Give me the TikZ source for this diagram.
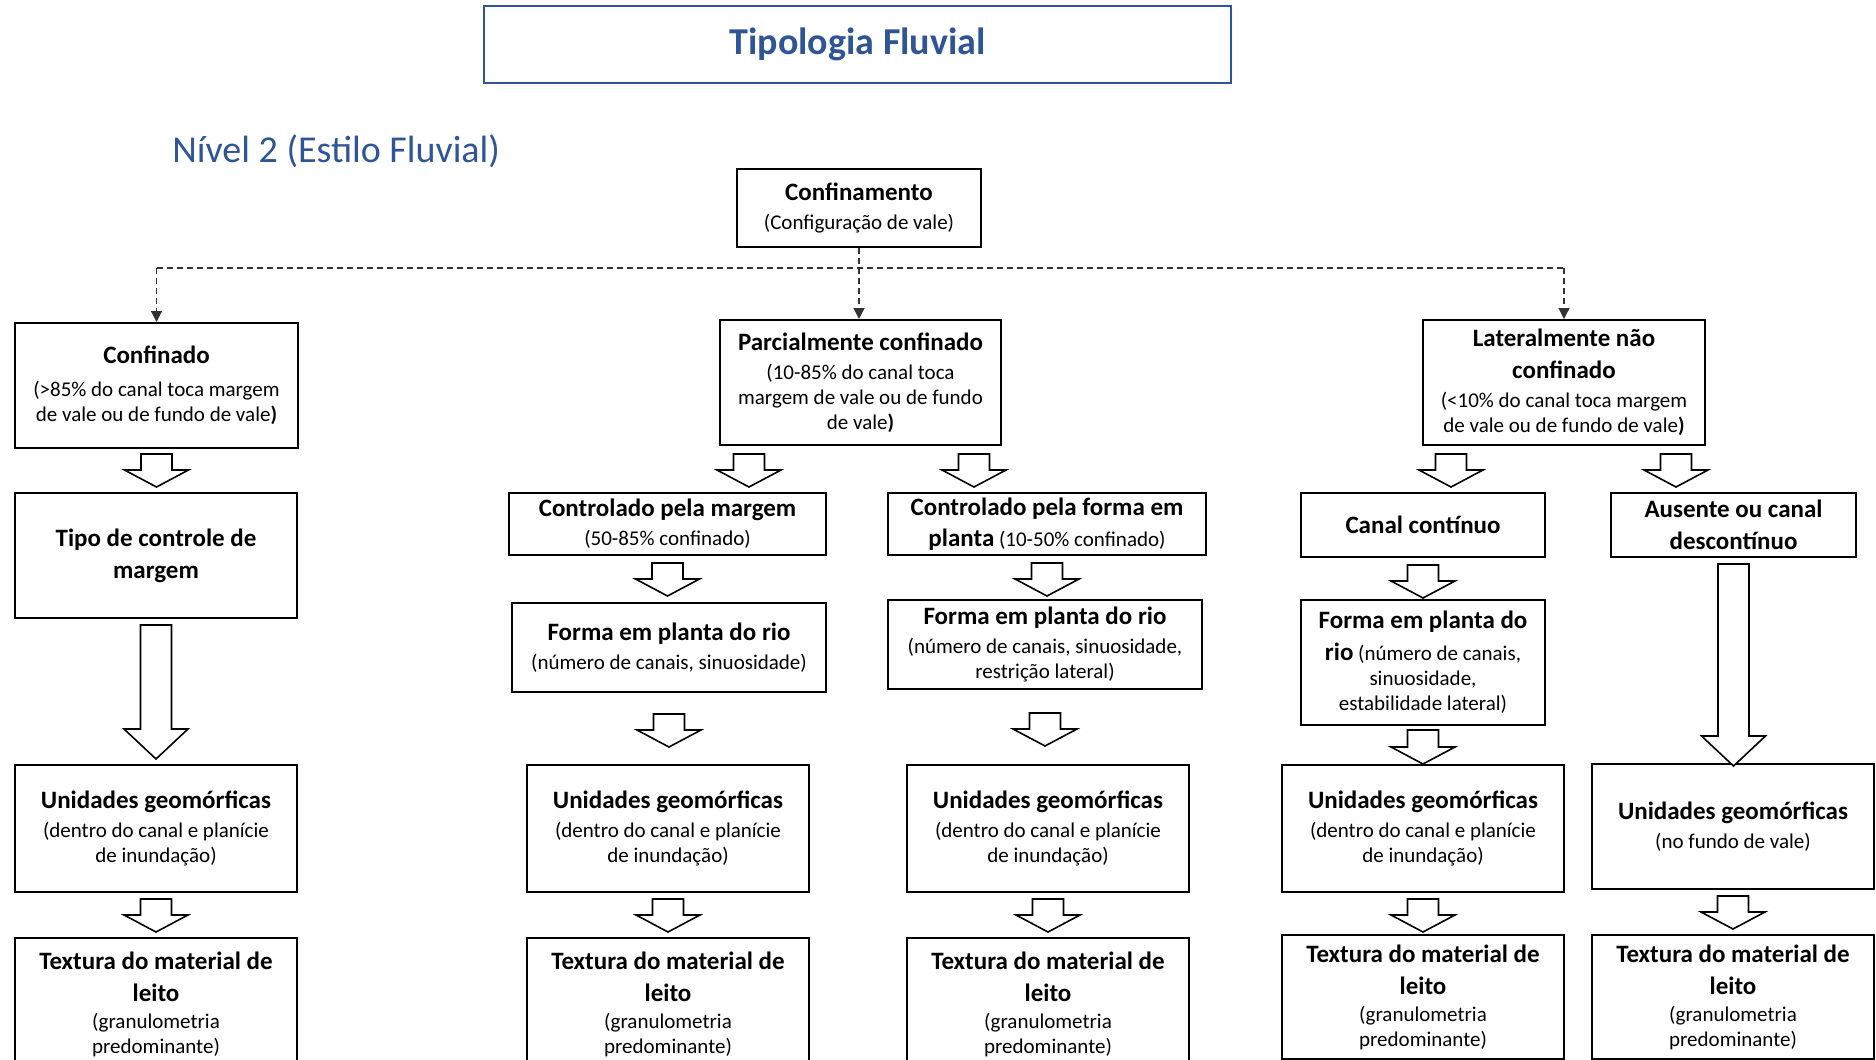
\documentclass[tikz,border=0pt]{standalone}
\usepackage{fontspec}
\setmainfont{Carlito}
\usepackage{tikz}
\usepackage{xcolor}
\usetikzlibrary{positioning,arrows.meta,calc}

\definecolor{titleblue}{RGB}{47,85,151}

\newcommand{\hd}[1]{{\fontsize{12.5}{15}\selectfont\bfseries #1}}
\newcommand{\bp}{\textbf{)}}

\tikzset{
  caixa/.style={rectangle, draw, line width=1pt, anchor=north west, align=center, inner sep=1pt, font=\fontsize{10.5}{12.5}\selectfont},
  sz/.style 2 args={minimum width=#1*0.5pt, minimum height=#2*0.5pt},
  dashline/.style={black!80, line width=0.6pt, dash pattern=on 3pt off 2pt},
  dasharrow/.style={-{Triangle[length=5.5pt,width=5.5pt]}},
  pics/fatarrow/.style args={#1/#2}{code={
    \draw[line width=0.8pt, fill=white] (-15.5,0) -- (15.5,0) -- (15.5,#1-#2) -- (32,#1-#2) -- (0,#1) -- (-32,#1-#2) -- (-15.5,#1-#2) -- cycle;
  }}
}

\begin{document}
\begin{tikzpicture}[x=0.5pt, y=-0.5pt]
        \useasboundingbox (0,0) rectangle (1876,1060);

        % Title and level label
        \node[caixa, draw=titleblue, sz={747}{77}, text=titleblue, font=\fontsize{19}{23}\selectfont\bfseries] (titulo) at (483,5) {Tipologia Fluvial};
        \node[anchor=west, inner sep=0pt, text=titleblue, font=\fontsize{19}{23}\selectfont] (nivel) at (172,151) {Nível 2 (Estilo Fluvial)};

        % Confinement
        \node[caixa, sz={244}{78}] (confinamento) at (736,168) {\hd{Confinamento}\\[2pt](Configuração de vale)};

        % Valley settings
        \node[caixa, sz={283}{125}] (confinado) at (14,322) {\hd{Confinado}\\[4pt](>85\% do canal toca margem\\de vale ou de fundo de vale\bp};
        \node[caixa, sz={281}{125}] (parcial) at (719,319) {\hd{Parcialmente confinado}\\[2pt](10-85\% do canal toca\\margem de vale ou de fundo\\de vale\bp};
        \node[caixa, sz={282}{125}] (lateral) at (1422,319) {\hd{Lateralmente não}\\[3.5pt]\hd{confinado}\\[2pt](<10\% do canal toca margem\\de vale ou de fundo de vale\bp};

        % Dashed links from confinement
        \coordinate (barra) at (0,268);
        \draw[dashline] (confinado.north |- barra) -- (lateral.north |- barra);
        \draw[dashline, dasharrow] (confinado.north |- barra) -- (confinado.north);
        \draw[dashline, dasharrow] (lateral.north |- barra) -- (lateral.north);
        \draw[dashline, dasharrow] (confinamento.south) -- (confinamento.south |- parcial.north);

        % Second row
        \node[caixa, sz={282}{125}] (tipo) at (14,492) {\hd{Tipo de controle de}\\[3.5pt]\hd{margem}};
        \node[caixa, sz={317}{62}] (margem) at (508,492) {\hd{Controlado pela margem}\\[2pt](50-85\% confinado)};
        \node[caixa, sz={318}{62}] (planta) at (887,492) {\hd{Controlado pela forma em}\\[3pt]\hd{planta} (10-50\% confinado)};
        \node[caixa, sz={244}{64}] (canal) at (1300,492) {\hd{Canal contínuo}};
        \node[caixa, sz={245}{64}] (ausente) at (1610,492) {\hd{Ausente ou canal}\\[3.5pt]\hd{descontínuo}};

        % Planform
        \node[caixa, sz={314}{89}] (formaA) at (511,602) {\hd{Forma em planta do rio}\\[2pt](número de canais, sinuosidade)};
        \node[caixa, sz={314}{89}] (formaB) at (887,599) {\hd{Forma em planta do rio}\\[2pt](número de canais, sinuosidade,\\restrição lateral)};
        \node[caixa, sz={244}{125}] (formaC) at (1300,599) {\hd{Forma em planta do}\\[3.5pt]\hd{rio} (número de canais,\\sinuosidade,\\estabilidade lateral)};

        % Geomorphic units
        \foreach \n/\x in {1/14, 2/526, 3/906, 4/1281} {
          \node[caixa, sz={282}{127}] (unid\n) at (\x,764) {\hd{Unidades geomórficas}\\[2pt](dentro do canal e planície\\de inundação)};
        }
        \node[caixa, sz={282}{125}] (unid5) at (1591,763) {\hd{Unidades geomórficas}\\[2pt](no fundo de vale)};

        % Bed material texture
        \foreach \n/\x/\y/\h in {1/14/937/133, 2/526/937/133, 3/906/937/133, 4/1281/934/124, 5/1591/934/124} {
          \node[caixa, sz={282}{\h}] (textura\n) at (\x,\y) {\hd{Textura do material de}\\[3.5pt]\hd{leito}\\[1pt](granulometria\\predominante)};
        }

        % Block arrows
        \pic at ($(confinado.south)+(0,5)$) {fatarrow=33/17};
        \pic at ($(parcial.south west)+(30,8)$) {fatarrow=33/17};
        \pic at ($(parcial.south east)+(-28,8)$) {fatarrow=33/17};
        \pic at ($(lateral.south west)+(29,8)$) {fatarrow=33/17};
        \pic at ($(lateral.south east)+(-30,8)$) {fatarrow=33/17};
        \pic at ($(tipo.south)+(0,6)$) {fatarrow=134/30};
        \pic at ($(margem.south)+(0,7)$) {fatarrow=33/17};
        \pic at ($(planta.south)+(0,7)$) {fatarrow=33/17};
        \pic at ($(canal.south)+(0,7)$) {fatarrow=33/17};
        \pic at ($(ausente.south)+(0,6)$) {fatarrow=202/30};
        \pic at ($(formaA.south)+(0,21)$) {fatarrow=33/17};
        \pic at ($(formaB.south)+(0,23)$) {fatarrow=33/17};
        \pic at ($(formaC.south)+(0,4)$) {fatarrow=34/17};
        \foreach \n in {1,...,5} {
          \pic at ($(unid\n.south)+(0,6)$) {fatarrow=33/17};
        }
      \end{tikzpicture}
\end{document}
